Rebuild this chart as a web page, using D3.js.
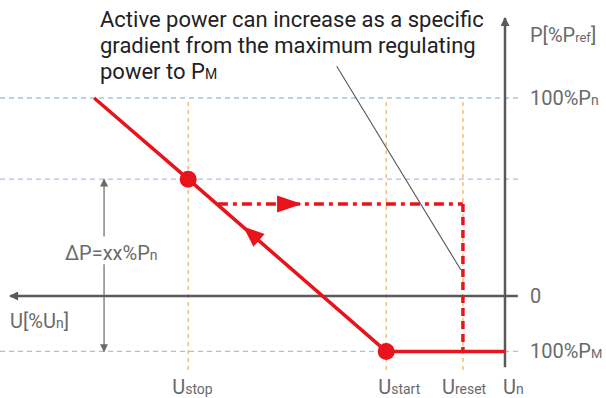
<!DOCTYPE html>
<html><head><meta charset="utf-8">
<script src="https://cdn.jsdelivr.net/npm/d3@7"></script>
<style>body{margin:0;background:#fff}svg{display:block}text{font-family:Roboto,"Liberation Sans",sans-serif}</style>
</head><body><svg id="c" width="606" height="398"></svg>
<script>
// Voltage positions (% of Un, schematic)
const uLabels = ["stop","start","reset","n"];
const uValues = [36, 76, 91.5, 100];
// Power levels (% of Pref, schematic)
const pLevels = [100, 59, -28];          // 100%Pn, ΔP level, 100%PM
const pLabelValues = [100, 0, -28];
// Main characteristic (solid red)
const mainLine = [{u:17,p:100},{u:36,p:59},{u:76,p:-28},{u:100,p:-28}];
const mainDots = [{u:36,p:59},{u:76,p:-28}];
// Reset path (dash-dot red)
const resetLine = [{u:42,p:46.5},{u:91.5,p:46.5},{u:91.5,p:-28}];
const annotation = ["Active power can increase as a specific","gradient from the maximum regulating","power to P"];

const svg = d3.select("#c");
const x = d3.scaleLinear().domain([0,100]).range([10,505]);
const y = d3.scaleLinear().domain([0,100]).range([296,98]);
const red = "#e8141c", axisC = "#5a5a5a", labC = "#6a6a6a";

// blue dotted reference lines
svg.selectAll(".hl").data(pLevels).join("line")
  .attr("x1",0).attr("x2",x(102.6)).attr("y1",d=>y(d)).attr("y2",d=>y(d))
  .attr("stroke","#a8c2e6").attr("stroke-width",1.3).attr("stroke-dasharray","5,4");
// orange vertical dashed lines
svg.selectAll(".vl").data(uValues.slice(0,3)).join("line")
  .attr("x1",d=>x(d)).attr("x2",d=>x(d)).attr("y1",y(98)).attr("y2",y(-38))
  .attr("stroke","#f3b35c").attr("stroke-width",1.3).attr("stroke-dasharray","4,4");

// axes
const defs = svg.append("defs");
function arrowHead(id,color,w,h){
  defs.append("marker").attr("id",id).attr("viewBox","0 0 10 10").attr("refX",9).attr("refY",5)
    .attr("markerUnits","userSpaceOnUse").attr("markerWidth",w).attr("markerHeight",h).attr("orient","auto")
    .append("path").attr("d","M0,0L10,5L0,10Z").attr("fill",color);
}
arrowHead("ax",axisC,10,9);
arrowHead("ax2","#6a6a6a",9,8);
svg.append("line").attr("x1",x(102.6)).attr("x2",x(0)).attr("y1",y(0)).attr("y2",y(0))
  .attr("stroke",axisC).attr("stroke-width",2.5).attr("marker-end","url(#ax)");
svg.append("line").attr("x1",x(100)).attr("x2",x(100)).attr("y1",y(-36)).attr("y2",y(140.4))
  .attr("stroke",axisC).attr("stroke-width",2.5).attr("marker-end","url(#ax)");

// ΔP dimension arrow
const dx = x(19);
svg.append("line").attr("x1",dx).attr("x2",dx).attr("y1",y(30)).attr("y2",y(59))
  .attr("stroke","#6a6a6a").attr("stroke-width",1.2).attr("marker-end","url(#ax2)");
svg.append("line").attr("x1",dx).attr("x2",dx).attr("y1",y(16)).attr("y2",y(-28))
  .attr("stroke","#6a6a6a").attr("stroke-width",1.2).attr("marker-end","url(#ax2)");

// annotation leader
svg.append("line").attr("x1",x(66)).attr("y1",y(116)).attr("x2",x(91.1)).attr("y2",y(13.1))
  .attr("stroke","#555").attr("stroke-width",1.1);

const line = d3.line().x(d=>x(d.u)).y(d=>y(d.p));
// reset path
svg.append("path").datum(resetLine.slice(0,2)).attr("d",line).attr("fill","none")
  .attr("stroke",red).attr("stroke-width",3.5).attr("stroke-dasharray","10,5,4,5");
svg.append("path").datum(resetLine.slice(1)).attr("d",line).attr("fill","none")
  .attr("stroke",red).attr("stroke-width",3.5).attr("stroke-dasharray","8,5");
// main line
svg.append("path").datum(mainLine).attr("d",line).attr("fill","none")
  .attr("stroke",red).attr("stroke-width",3.5).attr("stroke-linejoin","round");
svg.selectAll(".dot").data(mainDots).join("circle")
  .attr("cx",d=>x(d.u)).attr("cy",d=>y(d.p)).attr("r",8.5).attr("fill",red);

// direction arrows
function tri(tx,ty,ang,len,hw){
  const a=ang*Math.PI/180, c=Math.cos(a), s=Math.sin(a);
  const bx=tx-len*c, by=ty-len*s;
  return `M${tx},${ty}L${bx - hw*s},${by + hw*c}L${bx + hw*s},${by - hw*c}Z`;
}
svg.append("path").attr("d",tri(x(59),y(46.5),0,25,8.5)).attr("fill",red);
{
  const p0=mainLine[1], p1=mainLine[0];
  const ang=Math.atan2(y(p1.p)-y(p0.p), x(p1.u)-x(p0.u))*180/Math.PI;
  const tu=47.1, tp=p0.p+(tu-p0.u)*(p1.p-p0.p)/(p1.u-p0.u);
  svg.append("path").attr("d",tri(x(tu),y(tp),ang,21,8.5)).attr("fill",red);
}

// annotation text
const at = svg.append("text").attr("fill","#222").attr("font-size",22);
annotation.forEach((t,i)=>{
  at.append("tspan").attr("x",100).attr("y",27+i*26).text(t);
  if(i===2){ at.append("tspan").attr("font-size",14).text("M"); }
});

// labels
function sub(sel, main, s, fs, tail){
  sel.append("tspan").text(main);
  sel.append("tspan").attr("font-size",fs).text(s);
  if(tail) sel.append("tspan").text(tail);
  return sel;
}
const lab = (xx,yy,fs)=>svg.append("text").attr("x",xx).attr("y",yy).attr("fill",labC).attr("font-size",fs||20);
sub(lab(530,42),"P[%P","ref",13,"]");
sub(lab(530,y(pLabelValues[0])+7),"100%P","n",14);
lab(530,y(pLabelValues[1])+7).text("0");
sub(lab(530,y(pLabelValues[2])+7),"100%P","M",13);
sub(lab(10,y(-12.5)+7),"U[%U","n",14,"]");
sub(lab(65,y(21.6)+7),"ΔP=xx%P","n",14);
// bottom U labels
const uOffsets = [-16,-8,-21,-2];
uLabels.forEach((s,i)=>{
  const t = lab(x(uValues[i])+uOffsets[i],394,20);
  t.append("tspan").text("U");
  t.append("tspan").attr("font-size",14).text(s);
});
</script></body></html>
